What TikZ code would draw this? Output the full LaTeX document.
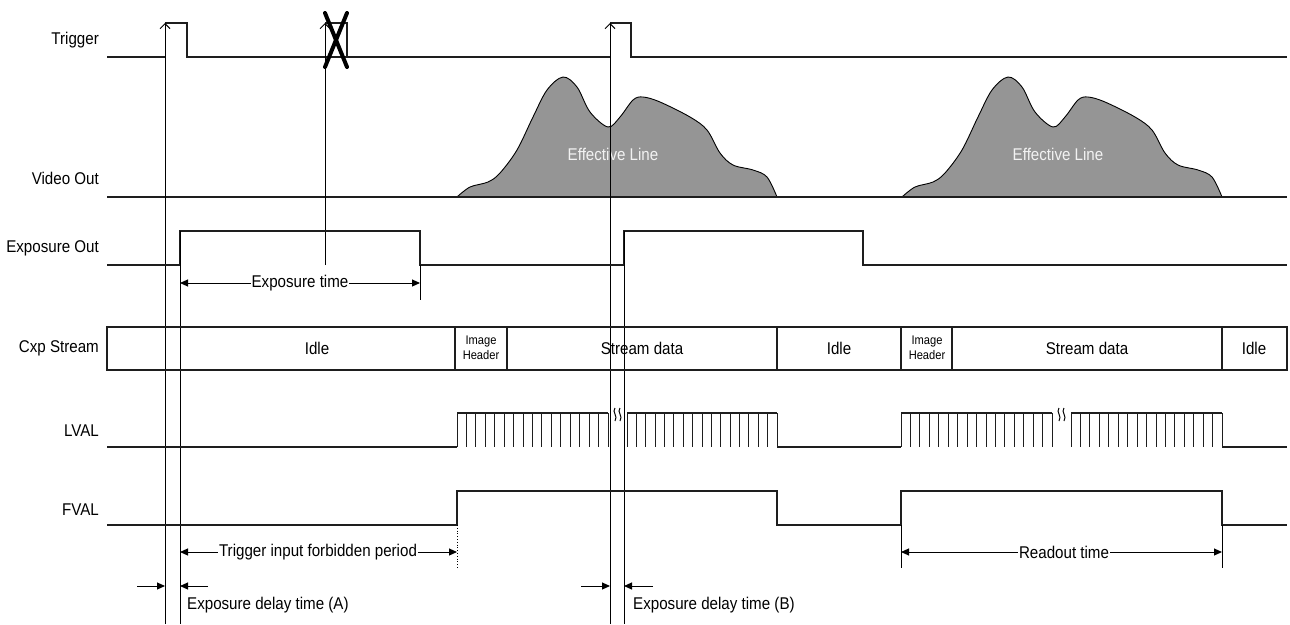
\documentclass[tikz,border=0pt]{standalone}
\usepackage{fontspec}
\setmainfont[FakeStretch=0.89]{Liberation Sans}
\usetikzlibrary{arrows.meta}
\definecolor{humpgray}{RGB}{149,149,149}
\definecolor{efftext}{RGB}{242,242,242}
\definecolor{sigcol}{RGB}{30,30,30}
\newcommand\combseg[2]{%
  \draw[sig] (#1,413) -- (#2,413);
  \foreach \k in {0,...,16} \draw[tooth] ({#1+\k*(#2-#1)/16},413) -- ++(0,34);}
\newcommand\breaksym[1]{%
  \draw[line width=1pt] (#1-2.5,408) .. controls (#1-6,412) and (#1+1,416) .. (#1-2.5,421);
  \draw[line width=1pt] (#1+2.5,408) .. controls (#1-1,412) and (#1+6,416) .. (#1+2.5,421);}
\begin{document}
\begin{tikzpicture}[x=1pt,y=-1pt,
  sig/.style={line width=1.1pt, draw=sigcol},
  tooth/.style={line width=0.9pt, draw=sigcol},
  vline/.style={line width=1pt, draw=black},
  trigarrow/.style={line width=1pt, -{Straight Barb[length=5pt,width=10pt]}},
  lbl/.style={font=\fontsize{17}{20}\selectfont, anchor=east, inner sep=0pt},
  txt/.style={font=\fontsize{17}{20}\selectfont, inner sep=0pt},
  boxtxt/.style={font=\fontsize{17}{20}\selectfont, inner sep=1pt, fill=white},
  small/.style={font=\fontsize{12.5}{15}\selectfont, align=center, inner sep=0pt},
  dim/.style={line width=1pt, {Triangle[length=8pt,width=7pt]}-{Triangle[length=8pt,width=7pt]}},
  onearrow/.style={line width=1pt, -{Triangle[length=8pt,width=7pt]}},
  hump/.style={fill=humpgray, draw=black, line width=0.9pt},
  xmark/.style={line width=4pt, line cap=round, black}]
\useasboundingbox (0,0) rectangle (1290,624);

% ---------- labels ----------
\node[lbl] (lTrig) at (99,40) {Trigger};
\node[lbl] (lVid) at (99,178) {Video Out};
\node[lbl] (lExp) at (99,248) {Exposure Out};
\node[lbl] (lCxp) at (99,348) {Cxp Stream};
\node[lbl] (lLval) at (99,431) {LVAL};
\node[lbl] (lFval) at (99,510) {FVAL};

% ---------- video out humps ----------
\foreach \ox/\nm in {457/effA,902/effB}{
  \begin{scope}[shift={(\ox,0)}]
    \path[hump] plot[smooth, tension=0.55] coordinates {(0,197) (13,187) (31,182) (43,173) (60,150) (76,117) (90,90) (106,77) (120,87) (133,112) (151,127) (163,117) (176,100) (186,97) (203,102) (233,117) (250,130) (263,153) (276,165) (296,170) (310,177) (320,197)} -- cycle;
    \node[txt, text=efftext] (\nm) at (156,154) {Effective Line};
  \end{scope}
}
\draw[sig] (107,197) -- (1287,197);

% ---------- trigger ----------
\draw[sig] (107,57) -- (165,57);
\draw[sig] (165,23) -- (187,23) -- (187,57) -- (610,57);
\draw[sig] (325,23) -- (347,23) -- (347,57);
\draw[sig] (610,23) -- (631,23) -- (631,57) -- (1287,57);
\draw[trigarrow] (165,624) -- (165,23);
\draw[trigarrow] (325,265) -- (325,23);
\draw[trigarrow] (610,624) -- (610,23);
\draw[xmark] (325,13) -- (347,67);
\draw[xmark] (347,13) -- (325,67);

% ---------- exposure out ----------
\draw[sig] (107,265) -- (180,265) -- (180,231) -- (420,231) -- (420,265) -- (624,265) -- (624,231) -- (863,231) -- (863,265) -- (1287,265);
\draw[vline] (180,231) -- (180,624);
\draw[vline] (624,231) -- (624,624);
\draw[vline] (420,265) -- (420,300);
\draw[dim] (180,283) -- (420,283);
\node[boxtxt] (expt) at (300,283) {Exposure time};

% ---------- Cxp stream ----------
\draw[sig] (107,327) rectangle (1287,370);
\foreach \x in {455,507,777,901,952,1222} \draw[sig] (\x,327) -- (\x,370);
\node[txt] (c1) at (317,348) {Idle};
\node[small] (c2) at (481,348) {Image\\Header};
\node[txt] (c3) at (642,348) {Stream data};
\node[txt] (c4) at (839,348) {Idle};
\node[small] (c5) at (927,348) {Image\\Header};
\node[txt] (c6) at (1087,348) {Stream data};
\node[txt] (c7) at (1254,348) {Idle};

% ---------- LVAL ----------
\draw[sig] (107,447) -- (457,447);
\combseg{457}{608}
\combseg{627}{777}
\draw[sig] (777,447) -- (901,447);
\combseg{901}{1052}
\combseg{1071}{1222}
\draw[sig] (1222,447) -- (1287,447);
\breaksym{617.5}
\breaksym{1061.5}

% ---------- FVAL ----------
\draw[sig] (107,525) -- (457,525) -- (457,491) -- (777,491) -- (777,525) -- (901,525) -- (901,491) -- (1222,491) -- (1222,525) -- (1287,525);
\draw[line width=0.8pt, dotted] (457,525) -- (457,568);
\draw[dim] (180,552) -- (457,552);
\node[boxtxt] (forb) at (318,552) {Trigger input forbidden period};
\draw[vline] (901,525) -- (901,568);
\draw[vline] (1222,525) -- (1222,568);
\draw[dim] (901,552) -- (1222,552);
\node[boxtxt] (rdo) at (1064,552) {Readout time};

% ---------- exposure delays ----------
\draw[onearrow] (137,586) -- (165,586);
\draw[onearrow] (208,586) -- (180,586);
\node[txt, anchor=west] (delA) at (187,605) {Exposure delay time (A)};
\draw[onearrow] (581,586) -- (610,586);
\draw[onearrow] (653,586) -- (624,586);
\node[txt, anchor=west] (delB) at (633,605) {Exposure delay time (B)};
\end{tikzpicture}
\end{document}
